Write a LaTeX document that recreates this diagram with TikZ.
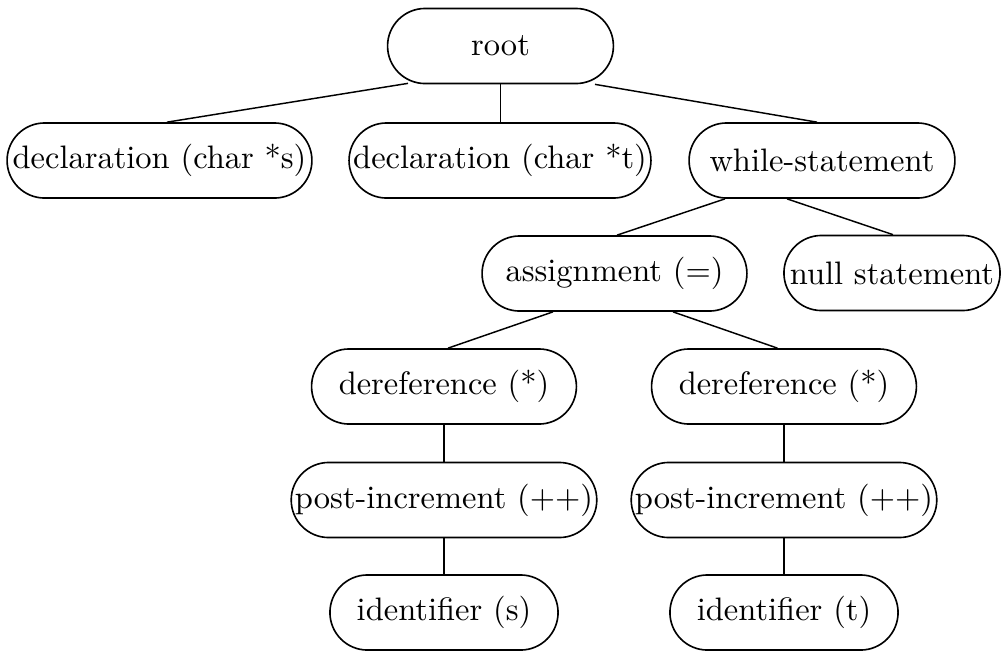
\documentclass[tikz,border=0pt]{standalone}
\usetikzlibrary{calc,shapes.misc}
\begin{document}
\begin{tikzpicture}[x=0.3077pt,y=-0.3077pt,
  tnode/.style={draw,line width=0.5pt,rounded rectangle,rounded rectangle arc length=180,minimum height=23.1pt,inner sep=0pt,font=\fontsize{10}{12}\selectfont},
  conn/.style={line width=0.45pt},
  vconn/.style={line width=0.6pt}]
\useasboundingbox (0,0) rectangle (1005,652);
\node[tnode,minimum width=69.5pt] (root) at (500.5,46) {root};
\node[tnode,minimum width=93.8pt] (decls) at (159.5,160.5) {declaration (char *s)};
\node[tnode,minimum width=92.9pt] (declt) at (500,160.5) {declaration (char *t)};
\node[tnode,minimum width=81.8pt] (while) at (822,160.5) {while-statement};
\node[tnode,minimum width=81.5pt] (assign) at (614.5,273.5) {assignment (=)};
\node[tnode,minimum width=66.5pt] (null) at (892,273) {null statement};
\node[tnode,minimum width=81.5pt] (derefL) at (444,386.5) {dereference (*)};
\node[tnode,minimum width=81.5pt] (derefR) at (784,386.5) {dereference (*)};
\node[tnode,minimum width=93.2pt] (postL) at (444,500) {post-increment (++)};
\node[tnode,minimum width=92.9pt] (postR) at (784,500) {post-increment (++)};
\node[tnode,minimum width=70.2pt] (idS) at (444,612.5) {identifier (s)};
\node[tnode,minimum width=70.2pt] (idT) at (784,612.5) {identifier (t)};
\draw[conn] ($(root.south)+(-92.5,-1)$) -- ($(decls.north)+(7.5,0)$);
\draw[vconn] (root.south) -- (root.south |- declt.north);
\draw[conn] ($(root.south)+(94.5,0)$) -- ($(while.north)+(-5,0)$);
\draw[conn] ($(while.south)+(-97,0)$) -- ($(assign.north)+(2.5,0)$);
\draw[conn] ($(while.south)+(-35,0)$) -- ($(null.north)+(1,0)$);
\draw[conn] ($(assign.south)+(-61.5,0)$) -- ($(derefL.north)+(4,0)$);
\draw[conn] ($(assign.south)+(58.5,0)$) -- ($(derefR.north)+(-6.5,0)$);
\draw[vconn] (derefL.south) -- (postL.north);
\draw[vconn] (derefR.south) -- (postR.north);
\draw[vconn] (postL.south) -- (idS.north);
\draw[vconn] (postR.south) -- (idT.north);
\end{tikzpicture}
\end{document}
